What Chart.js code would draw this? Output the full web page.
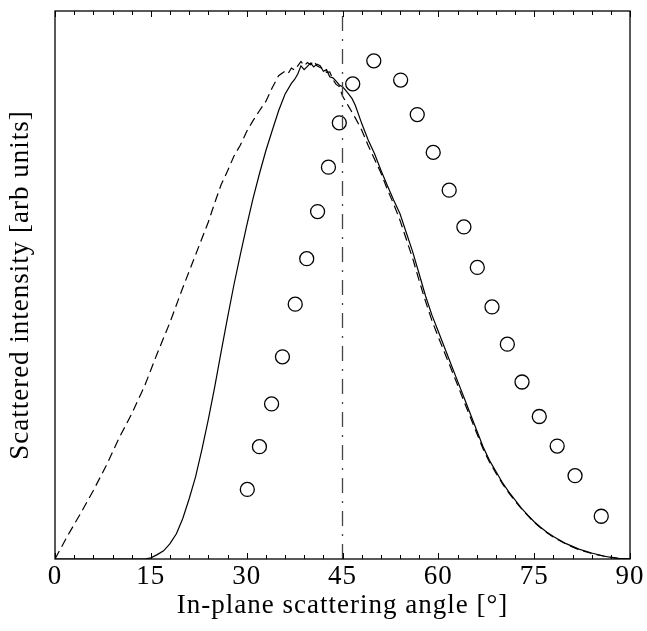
<!DOCTYPE html>
<html lang="en">
<head>
    <meta charset="UTF-8">
    <title>Scattered intensity vs in-plane angle</title>
    <script src="https://cdn.jsdelivr.net/npm/chart.js"></script>
    <style>
        body { margin: 0; background: #fff; }
    </style>
</head>
<body>
    <canvas id="scatterChart" width="647" height="631"></canvas>

    <script>
        // Solid curve (simulation)
        const solidAngles = [0, 12, 14, 15, 16, 17, 18, 19, 20, 21, 22, 23, 24, 25, 26, 27, 28, 29, 30,
            31, 32, 33, 34, 35, 36, 37, 37.5, 38, 38.5, 39, 39.5, 40, 40.5, 41, 41.5, 42, 42.5, 43, 43.5,
            44, 44.5, 45, 45.5, 46, 46.5, 47, 48, 49, 50, 51, 52, 53, 54, 55, 56, 57, 58, 59, 60, 61, 62,
            63, 64, 65, 66, 67, 68, 69, 70, 71, 72, 73, 74, 75, 76, 77, 78, 80, 82, 84, 86, 88, 90];
        const solidIntensity = [0, 0, 0, 0.2, 0.8, 1.5, 2.8, 4.6, 7.4, 11.0, 15.0, 20.0, 25.5, 31.4, 37.8,
            44.0, 50.0, 55.5, 60.8, 65.8, 70.3, 74.5, 78.2, 81.8, 84.8, 86.8, 87.5, 88.5, 90.0, 89.3, 89.9,
            90.5, 89.8, 90.3, 90.0, 89.0, 89.3, 88.0, 87.8, 87.2, 86.5, 86.2, 85.5, 84.8, 84.0, 82.8, 79.5,
            76.5, 74.0, 71.0, 68.2, 65.5, 63.0, 59.5, 56.0, 52.0, 48.0, 44.5, 41.5, 38.5, 35.5, 32.5, 29.5,
            26.5, 23.5, 20.5, 18.0, 16.0, 14.0, 12.3, 10.8, 9.3, 8.0, 6.8, 5.8, 4.9, 4.1, 2.8, 1.8, 1.1,
            0.5, 0.1, 0];

        // Dashed curve (simulation, second model)
        const dashedAngles = [0, 2, 4, 6, 8, 10, 12, 14, 16, 18, 20, 22, 24, 25, 26, 27, 28, 29, 30, 31,
            32, 33, 34, 35, 36, 36.5, 37, 37.5, 38, 38.5, 39, 39.5, 40, 40.5, 41, 41.5, 42, 42.5, 43, 43.5,
            44, 44.5, 45, 46, 47, 48, 49, 50, 51, 52, 53, 54, 55, 56, 57, 58, 59, 60, 61, 62, 63, 64, 65,
            66, 67, 68, 69, 70, 71, 72, 73, 74, 75, 76, 77, 78, 80, 82, 84, 86, 88, 90];
        const dashedIntensity = [0, 4.3, 8.3, 12.5, 17.0, 22.0, 26.5, 31.5, 37.5, 43.2, 49.5, 55.5, 61.5,
            65.0, 68.3, 70.8, 73.5, 75.5, 78.0, 80.0, 81.8, 83.5, 86.0, 88.2, 89.0, 88.6, 89.6, 89.2, 90.0,
            90.8, 90.0, 90.6, 90.2, 90.9, 90.0, 89.7, 89.5, 88.8, 88.9, 87.5, 86.6, 86.2, 84.5, 82.5, 80.5,
            78.3, 75.5, 73.0, 70.5, 67.5, 64.8, 61.8, 58.3, 54.8, 50.8, 47.0, 43.5, 40.5, 37.6, 34.7, 31.8,
            28.8, 25.9, 23.0, 20.1, 17.7, 15.7, 13.8, 12.1, 10.6, 9.2, 7.9, 6.7, 5.7, 4.8, 4.0, 2.7, 1.7,
            1.0, 0.5, 0.15, 0];

        // Open circles (measurement)
        const circleAngles = [30.1, 32.0, 33.9, 35.6, 37.6, 39.4, 41.1, 42.8, 44.5, 46.6, 49.9, 54.1,
            56.7, 59.2, 61.7, 64.0, 66.1, 68.4, 70.8, 73.1, 75.8, 78.6, 81.4, 85.5];
        const circleIntensity = [12.7, 20.5, 28.3, 36.9, 46.5, 54.8, 63.4, 71.5, 79.6, 86.7, 90.9, 87.4,
            81.1, 74.2, 67.3, 60.6, 53.2, 46.0, 39.2, 32.3, 26.0, 20.6, 15.2, 7.8];

        const refAngle = 45;
        const xTicks = [0, 15, 30, 45, 60, 75, 90];
        const minorStep = 3;

        const toPoints = (xs, ys) => xs.map((v, i) => ({ x: v, y: ys[i] }));
        const serif = '"Liberation Serif", "DejaVu Serif", serif';

        // slightly wider text, closer to the original's Computer Modern
        const spacing = {
            id: 'spacing',
            beforeDraw(chart) { chart.ctx.letterSpacing = '1px'; }
        };

        // box + inward ticks on top and bottom
        const frame = {
            id: 'frame',
            afterDatasetsDraw(chart) {
                const { ctx, chartArea: a, scales: { x } } = chart;
                ctx.save();
                ctx.strokeStyle = '#000';
                ctx.lineWidth = 1.3;
                ctx.strokeRect(a.left, a.top, a.right - a.left, a.bottom - a.top);
                ctx.lineWidth = 1;
                ctx.beginPath();
                for (let v = x.min; v <= x.max; v += minorStep) {
                    const px = Math.round(x.getPixelForValue(v)) + 0.5;
                    const len = xTicks.includes(v) ? 6 : 4;
                    ctx.moveTo(px, a.bottom);
                    ctx.lineTo(px, a.bottom - len);
                    ctx.moveTo(px, a.top);
                    ctx.lineTo(px, a.top + len);
                }
                ctx.stroke();
                ctx.restore();
            }
        };

        const ctx = document.getElementById('scatterChart').getContext('2d');
        new Chart(ctx, {
            type: 'scatter',
            data: {
                datasets: [{
                    data: [{ x: refAngle, y: 0 }, { x: refAngle, y: 100 }],
                    showLine: true,
                    borderColor: '#444',
                    borderWidth: 1.3,
                    borderDash: [15, 8, 2, 8],
                    pointRadius: 0
                }, {
                    data: toPoints(dashedAngles, dashedIntensity),
                    showLine: true,
                    borderColor: '#000',
                    borderWidth: 1.2,
                    borderDash: [9, 5],
                    pointRadius: 0
                }, {
                    data: toPoints(solidAngles, solidIntensity),
                    showLine: true,
                    borderColor: '#000',
                    borderWidth: 1.2,
                    pointRadius: 0
                }, {
                    data: toPoints(circleAngles, circleIntensity),
                    showLine: false,
                    borderColor: '#000',
                    backgroundColor: 'rgba(0,0,0,0)',
                    borderWidth: 1.3,
                    pointRadius: 7
                }]
            },
            options: {
                responsive: false,
                animation: false,
                layout: { padding: { top: 11, right: 17, left: 0, bottom: 0 } },
                plugins: {
                    legend: { display: false },
                    tooltip: { enabled: false }
                },
                scales: {
                    x: {
                        type: 'linear',
                        min: 0,
                        max: 90,
                        afterBuildTicks: (scale) => { scale.ticks = xTicks.map(v => ({ value: v })); },
                        afterFit: (scale) => { scale.height = 72; },
                        ticks: { color: '#000', font: { family: serif, size: 27 }, padding: 2, maxRotation: 0 },
                        grid: { display: false, drawTicks: false },
                        border: { display: false },
                        title: {
                            display: true,
                            text: 'In-plane scattering angle [°]',
                            color: '#000',
                            font: { family: serif, size: 27 },
                            padding: { top: 0, bottom: 9 }
                        }
                    },
                    y: {
                        min: 0,
                        max: 100,
                        afterFit: (scale) => { scale.width = 55; },
                        ticks: { display: false },
                        grid: { display: false, drawTicks: false },
                        border: { display: false },
                        title: {
                            display: true,
                            text: 'Scattered intensity [arb units]',
                            color: '#000',
                            font: { family: serif, size: 27 },
                            padding: { top: 5, bottom: 0 }
                        }
                    }
                }
            },
            plugins: [spacing, frame]
        });
    </script>
</body>
</html>
